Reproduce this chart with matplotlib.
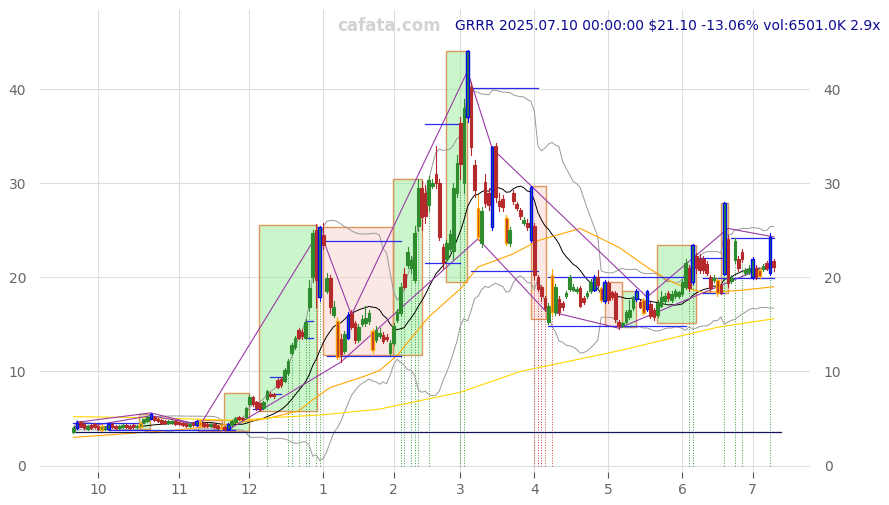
import matplotlib as mpl
mpl.use('agg')
import matplotlib.pyplot as plt
from matplotlib.patches import Rectangle
import pandas as pd

# daily OHLC, one trading day per entry (2024-09-20 .. 2025-07-10)
opens = [3.6, 4.0, 4.6, 4.4, 3.9, 4.3, 4.4, 4.2, 3.8, 3.9,
         3.9, 4.4, 4.2, 4.0, 4.1, 4.3, 4.2, 4.3, 4.1, 4.1,
         4.6, 4.7, 5.0, 5.2, 5.0, 4.8, 4.7, 4.5, 4.5, 4.7,
         4.6, 4.5, 4.4, 4.2, 4.5, 4.3, 4.6, 4.5, 4.4, 4.2,
         4.4, 4.2, 4.0, 4.1, 3.9, 4.3, 4.6, 5.2, 5.1, 5.2,
         6.5, 7.3, 6.8, 6.6, 6.1, 7.1, 7.6, 7.6, 9.1, 9.2,
         9.0, 9.8, 12.0, 12.6, 14.4, 14.2, 13.6, 16.8, 20.0, 25.0,
         17.9, 24.5, 18.6, 19.9, 16.0, 15.4, 13.5, 12.2, 13.6, 16.2,
         15.2, 13.3, 15.0, 15.2, 15.4, 14.3, 13.3, 13.8, 13.9, 13.7,
         12.0, 13.0, 15.5, 16.2, 20.4, 21.3, 21.0, 19.7, 25.5, 29.5,
         29.0, 27.7, 29.7, 31.0, 30.0, 23.2, 22.0, 23.0, 22.8, 29.0,
         36.4, 30.0, 37.0, 40.2, 31.9, 27.4, 23.6, 30.1, 29.0, 25.3,
         34.0, 28.1, 28.3, 26.3, 23.6, 29.0, 27.8, 27.2, 25.8, 25.8,
         24.0, 25.5, 20.0, 19.0, 17.8, 15.3, 20.2, 16.3, 17.7, 17.3,
         18.0, 18.8, 18.7, 18.5, 18.9, 17.8, 18.0, 18.5, 18.7, 20.0,
         18.9, 17.5, 19.4, 18.4, 18.3, 15.3, 14.9, 15.3, 15.8, 16.7,
         17.7, 17.4, 17.6, 16.6, 17.2, 16.5, 16.0, 17.0, 17.5, 18.3,
         17.6, 18.0, 18.0, 18.2, 19.0, 21.0, 19.5, 22.3, 22.0, 22.0,
         21.4, 20.0, 19.7, 19.7, 19.2, 20.4, 24.1, 19.6, 21.8, 22.0,
         22.7, 20.5, 20.6, 20.0, 21.0, 20.8, 20.9, 21.5, 20.5, 21.7]
highs = [4.1, 4.7, 4.7, 4.5, 4.3, 4.4, 4.5, 4.3, 4.3, 4.1,
         4.5, 4.5, 4.3, 4.3, 4.4, 4.4, 4.3, 4.4, 4.3, 4.6,
         5.0, 5.3, 5.6, 5.3, 5.1, 4.9, 4.8, 4.8, 4.8, 4.8,
         4.7, 4.6, 4.5, 4.5, 4.6, 4.8, 4.8, 4.6, 4.5, 4.5,
         4.5, 4.3, 4.3, 4.2, 4.5, 4.8, 5.2, 5.3, 5.2, 6.2,
         7.5, 7.4, 6.9, 6.7, 6.9, 8.0, 7.8, 7.7, 9.3, 9.4,
         10.4, 11.3, 13.0, 13.8, 14.6, 14.5, 15.6, 19.7, 25.0, 25.7,
         25.5, 25.8, 20.5, 20.2, 17.5, 15.8, 14.0, 14.3, 16.3, 16.5,
         15.4, 15.0, 16.0, 17.0, 16.5, 14.5, 14.8, 14.6, 14.2, 14.0,
         13.3, 15.2, 16.6, 19.4, 21.0, 23.2, 22.3, 25.5, 30.5, 30.2,
         29.8, 30.8, 30.5, 34.0, 30.4, 23.5, 24.0, 25.0, 30.0, 33.0,
         37.0, 39.0, 44.2, 40.8, 32.5, 28.8, 27.5, 31.0, 29.5, 34.0,
         34.3, 29.0, 28.8, 26.6, 25.3, 29.3, 28.0, 27.4, 26.4, 26.2,
         29.7, 25.8, 20.3, 19.2, 18.0, 17.3, 20.9, 19.3, 18.0, 17.5,
         18.6, 20.2, 19.3, 19.0, 19.1, 18.0, 18.6, 19.8, 20.2, 20.8,
         19.0, 19.7, 19.6, 18.6, 18.5, 15.5, 15.3, 16.5, 17.6, 18.0,
         18.8, 17.6, 17.8, 18.7, 17.4, 16.7, 17.6, 18.5, 18.3, 18.5,
         18.5, 18.8, 18.6, 19.8, 22.0, 21.3, 23.5, 22.6, 22.5, 22.3,
         21.7, 20.3, 20.3, 19.9, 19.4, 28.0, 24.5, 20.2, 24.2, 22.3,
         23.0, 21.0, 21.3, 22.2, 21.3, 21.0, 21.4, 21.7, 24.7, 22.0]
lows = [3.5, 3.9, 4.1, 3.9, 3.8, 3.9, 4.0, 3.8, 3.7, 3.8,
        3.8, 4.0, 3.9, 3.9, 4.0, 4.0, 3.9, 4.0, 4.0, 4.0,
        4.5, 4.6, 4.9, 4.7, 4.6, 4.4, 4.4, 4.4, 4.4, 4.3,
        4.3, 4.2, 4.1, 4.1, 4.2, 4.2, 4.2, 4.1, 4.1, 4.1,
        4.0, 3.9, 3.8, 3.8, 3.8, 4.2, 4.5, 4.8, 4.8, 5.1,
        6.4, 6.3, 5.9, 5.8, 6.0, 7.0, 7.3, 7.2, 8.2, 8.4,
        8.9, 9.6, 11.8, 12.4, 13.4, 13.5, 13.4, 16.5, 19.5, 16.8,
        17.5, 23.0, 18.3, 16.2, 15.8, 11.3, 11.0, 12.0, 13.4, 14.5,
        13.0, 13.1, 14.8, 14.8, 15.0, 12.0, 13.1, 13.6, 13.0, 13.2,
        11.8, 12.8, 15.3, 16.0, 18.8, 21.0, 20.5, 19.4, 24.9, 25.0,
        25.8, 27.0, 29.5, 29.5, 24.0, 21.0, 21.7, 22.8, 22.0, 28.5,
        30.5, 29.0, 36.5, 33.0, 28.5, 24.0, 23.2, 27.5, 27.2, 25.0,
        28.0, 27.0, 27.0, 23.4, 23.3, 27.8, 27.2, 26.2, 25.6, 25.0,
        23.8, 19.8, 18.5, 17.5, 16.4, 15.0, 16.0, 16.0, 16.0, 16.5,
        17.8, 18.6, 18.5, 18.3, 16.8, 17.2, 17.8, 18.3, 18.5, 19.0,
        17.4, 17.3, 17.3, 17.7, 15.3, 14.5, 14.7, 15.1, 15.6, 16.5,
        17.5, 16.7, 16.0, 16.4, 15.7, 15.5, 15.8, 16.8, 17.2, 17.5,
        17.4, 17.8, 17.8, 18.0, 18.8, 18.5, 19.3, 20.5, 20.5, 20.5,
        20.2, 18.6, 19.5, 18.0, 18.2, 20.2, 19.0, 19.4, 21.5, 20.7,
        21.6, 20.3, 20.4, 19.8, 19.8, 19.9, 20.7, 20.8, 20.3, 20.7]
closes = [4.0, 4.5, 4.2, 4.0, 4.2, 4.0, 4.1, 3.9, 4.2, 4.0,
          4.4, 4.1, 4.0, 4.2, 4.3, 4.1, 4.0, 4.1, 4.2, 4.5,
          4.9, 5.2, 5.5, 4.8, 4.7, 4.5, 4.5, 4.7, 4.7, 4.4,
          4.4, 4.3, 4.2, 4.4, 4.3, 4.7, 4.3, 4.2, 4.2, 4.4,
          4.1, 4.0, 4.1, 3.9, 4.4, 4.7, 5.1, 4.9, 4.9, 6.1,
          7.3, 6.5, 6.1, 6.0, 6.8, 7.9, 7.4, 7.4, 8.4, 8.6,
          10.2, 11.1, 12.8, 13.6, 13.6, 13.8, 15.3, 18.9, 24.7, 19.7,
          25.3, 23.4, 19.9, 16.8, 16.8, 11.5, 11.9, 14.0, 16.0, 14.7,
          13.3, 14.7, 15.6, 15.7, 16.2, 12.3, 14.4, 14.1, 13.2, 13.4,
          13.0, 14.8, 16.3, 19.0, 19.0, 22.7, 21.8, 24.7, 29.5, 26.4,
          26.5, 30.3, 30.0, 30.0, 24.3, 21.5, 23.6, 24.6, 29.5, 32.2,
          32.0, 38.0, 44.1, 33.8, 29.3, 24.3, 27.1, 27.9, 27.7, 33.8,
          28.5, 27.6, 27.5, 23.6, 25.0, 28.1, 27.4, 26.5, 26.1, 25.3,
          29.6, 20.2, 18.8, 18.0, 16.7, 17.0, 16.3, 19.0, 16.3, 16.8,
          18.3, 20.0, 19.0, 18.8, 17.0, 17.4, 18.3, 19.5, 20.0, 19.2,
          17.6, 19.5, 17.6, 17.9, 15.6, 14.8, 15.1, 16.3, 16.5, 17.7,
          18.6, 16.9, 16.2, 18.5, 15.9, 15.8, 17.3, 17.9, 18.0, 17.8,
          18.2, 18.5, 18.4, 19.5, 21.5, 18.9, 23.4, 21.0, 20.8, 20.8,
          20.5, 18.9, 19.9, 18.3, 18.4, 27.9, 19.4, 19.9, 23.9, 21.0,
          21.9, 20.8, 21.0, 22.0, 20.0, 20.1, 21.2, 21.0, 24.27, 21.1]

blue_days = [1, 10, 22, 35, 44, 70, 78, 112, 119, 130, 148, 151, 160, 163, 176, 185, 193, 198]
orange_days = [8, 19, 36, 42, 75, 85, 115, 123, 136, 150, 162, 183, 195]

month_pos = [7, 30, 50, 71, 91, 110, 131, 152, 173, 193]
month_lbl = ['10', '11', '12', '1', '2', '3', '4', '5', '6', '7']

# slower averages
ma50_days = [0, 19, 30, 44, 55, 64, 68, 73, 82, 87, 92, 97, 101, 110, 115, 125, 132, 144, 155, 163, 169, 174, 179, 189, 199]
ma50_vals = [3.0, 3.5, 3.8, 4.4, 5.0, 5.8, 7.0, 8.3, 9.4, 10.1, 11.7, 14.0, 15.8, 18.8, 21.1, 22.5, 23.9, 25.2, 23.2, 21.1, 19.7, 18.9, 18.4, 18.6, 19.0]
ma200_days = [0, 20, 38, 47, 57, 71, 87, 101, 110, 127, 155, 183, 199]
ma200_vals = [5.2, 5.1, 4.9, 4.8, 5.1, 5.4, 6.0, 7.1, 7.8, 10.0, 12.2, 14.7, 15.6]

# zigzag pivots
zz_major_days = [1, 22, 36, 70, 79, 112, 119, 163, 186, 199]
zz_major_vals = [4.6, 5.6, 4.3, 25.0, 16.0, 41.9, 33.7, 17.9, 25.2, 24.3]
zz_minor_days = [0, 22, 44, 76, 115, 134, 155, 199]
zz_minor_vals = [3.9, 5.3, 3.8, 11.0, 24.1, 16.5, 14.6, 21.5]

# boxes: start day, end day, low, high, up/down
box_x0 = [18.5, 35.5, 42.8, 52.7, 70.9, 90.8, 106.0, 130.0, 151.0, 155.8, 165.8, 184.0]
box_x1 = [21.7, 42.2, 49.9, 69.2, 90.8, 99.0, 111.8, 134.2, 155.8, 160.0, 176.8, 186.0]
box_lo = [3.9, 3.7, 3.7, 5.85, 11.8, 11.8, 19.5, 15.6, 14.8, 14.7, 15.2, 18.3]
box_hi = [5.5, 4.8, 7.7, 25.6, 25.4, 30.5, 44.1, 29.7, 19.5, 18.6, 23.4, 27.9]
box_up = [True, False, True, True, False, True, True, False, False, True, True, True]

# horizontal levels: start day, end day, price
lvl_x0 = [0, 10, 51, 51, 56, 56, 66, 66, 71, 72, 100, 100, 113, 113, 135, 135, 177, 179, 187, 179]
lvl_x1 = [20, 46, 54, 54, 60, 59, 68, 68, 93, 93, 110, 110, 132, 132, 174, 174, 185, 185, 199, 199]
lvl_y = [4.5, 3.8, 6.6, 6.0, 9.4, 7.6, 15.4, 13.6, 23.9, 11.6, 36.3, 21.5, 40.1, 20.7, 20.0, 14.8, 22.1, 18.3, 24.2, 19.9]
base_level = 3.6

signal_up = [50, 55, 61, 62, 64, 66, 67, 69, 70, 93, 94, 96, 97, 98, 101, 110, 111, 175, 176, 185, 188, 190, 198]
signal_dn = [131, 132, 133, 134, 136]

n = len(closes)
days = list(range(n))
s = pd.Series(closes)
ma20 = s.rolling(20, min_periods=1).mean()
sd20 = s.rolling(20, min_periods=2).std(ddof=0).fillna(0)

fig = plt.figure(figsize=(8.89, 5.05), dpi=100)
ax = fig.add_axes([0.045, 0.065, 0.866, 0.915])

for x0, x1, lo, hi, up in zip(box_x0, box_x1, box_lo, box_hi, box_up):
    fc = '#99ee99' if up else '#f9d2cc'
    ax.add_patch(Rectangle((x0, lo), x1 - x0, hi - lo, facecolor=fc, alpha=0.5,
                           edgecolor='none', zorder=1))
    ax.add_patch(Rectangle((x0, lo), x1 - x0, hi - lo, facecolor='none',
                           edgecolor='#e0965a', lw=1.0, zorder=1.2))

for d in signal_up:
    ax.plot([d, d], [0, lows[d]], color='#3a9a3a', lw=0.7, ls=':', zorder=1.5)
for d in signal_dn:
    ax.plot([d, d], [0, lows[d]], color='#d04040', lw=0.7, ls=':', zorder=1.5)

ax.plot(days, ma20 + 2 * sd20, color='#999999', lw=0.7, zorder=2)
ax.plot(days, ma20 - 2 * sd20, color='#999999', lw=0.7, zorder=2)
ax.plot(days, ma20, color='black', lw=0.7, zorder=2.1)
ax.plot(ma50_days, ma50_vals, color='orange', lw=0.8, zorder=2.1)
ax.plot(ma200_days, ma200_vals, color='gold', lw=0.8, zorder=2.1)

ax.plot(zz_major_days, zz_major_vals, color='#9a3aa8', lw=0.8, zorder=3)
ax.plot(zz_minor_days, zz_minor_vals, color='#9a3aa8', lw=0.8, zorder=3)

ax.plot([0, n + 1], [base_level, base_level], color='#14145a', lw=0.9, zorder=3)
for x0, x1, y in zip(lvl_x0, lvl_x1, lvl_y):
    ax.plot([x0, x1], [y, y], color='#2a2af0', lw=0.9, zorder=3)

for i in days:
    o, h, l, c = opens[i], highs[i], lows[i], closes[i]
    col = '#2e8b2e' if c >= o else '#b52a2a'
    edge = col
    if i in blue_days:
        edge = '#0000ff'
    elif i in orange_days:
        edge = '#ffa500'
    ax.plot([i, i], [l, h], color=edge, lw=0.8, zorder=4)
    body = max(abs(c - o), 0.12)
    ax.add_patch(Rectangle((i - 0.38, min(o, c)), 0.76, body, facecolor=col,
                           edgecolor=edge, lw=0.8 if edge == col else 1.0, zorder=5))

ax.set_xlim(-9.5, 209.3)
ax.set_ylim(-0.7, 48.4)
ax.set_xticks(month_pos)
ax.set_xticklabels(month_lbl)
ax.set_yticks([0, 10, 20, 30, 40])
ax.grid(True, color='#dddddd', lw=0.8)
ax.set_axisbelow(True)
for sp in ax.spines.values():
    sp.set_visible(False)
ax.tick_params(axis='x', length=4, color='#555555', labelcolor='#666666', labelsize=10)
ax.tick_params(axis='y', length=0, pad=10, labelcolor='#666666', labelsize=10,
               labelright=True)

fig.text(0.4375, 0.949, 'cafata.com', color='#d3d3d3', fontsize=12, fontweight='bold',
         ha='center', va='center')
fig.text(0.99, 0.949, 'GRRR 2025.07.10 00:00:00 $21.10 -13.06% vol:6501.0K 2.9x',
         color='#0a0a90', fontsize=10, ha='right', va='center')

fig.savefig('out.png', dpi=100)
